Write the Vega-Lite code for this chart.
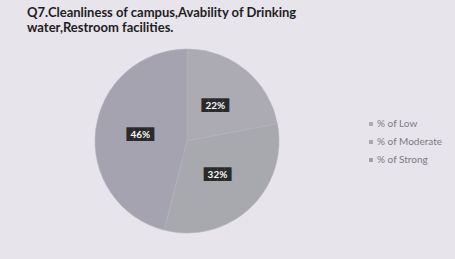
{
  "$schema": "https://vega.github.io/schema/vega-lite/v6.json",
  "autosize": "none",
  "width": 374,
  "height": 206,
  "padding": {"left": 0, "top": 38, "right": 81, "bottom": 15},
  "background": "#e8e4eb",
  "title": {
    "text": ["Q7.Cleanliness of campus,Avability of Drinking", "water,Restroom facilities."],
    "anchor": "start",
    "frame": "group",
    "dx": 27,
    "offset": 3,
    "font": "Lato",
    "fontSize": 13,
    "fontWeight": "bold",
    "color": "#1e1e22",
    "lineHeight": 15
  },
  "config": {"view": {"stroke": null}},
  "data": {
    "values": [
      {"cat": "% of Low", "v": 22, "label": "22%"},
      {"cat": "% of Moderate", "v": 32, "label": "32%"},
      {"cat": "% of Strong", "v": 46, "label": "46%"}
    ]
  },
  "encoding": {
    "theta": {"field": "v", "type": "quantitative", "stack": true}
  },
  "layer": [
    {
      "mark": {"type": "arc", "outerRadius": 92, "stroke": "#b4b2ba", "strokeWidth": 0.6},
      "encoding": {
        "color": {
          "field": "cat",
          "type": "nominal",
          "scale": {"range": ["#acabb4", "#a8a8af", "#a6a3b0"]},
          "legend": {
            "title": null,
            "orient": "none",
            "legendX": 366,
            "legendY": 81,
            "symbolType": "square",
            "symbolSize": 16,
            "symbolFillColor": "#8e8c96",
            "symbolStrokeWidth": 0,
            "labelFont": "Lato",
            "labelFontSize": 10,
            "labelColor": "#7d7b84",
            "rowPadding": 8,
            "labelOffset": 1
          }
        }
      }
    },
    {
      "mark": {"type": "text", "radius": 46, "font": "DejaVu Sans Mono", "fontSize": 11.5, "text": "████", "fill": "#2a2a2c", "dx": -1},
      "encoding": {
        "detail": {"field": "cat"}
      }
    },
    {
      "mark": {"type": "text", "radius": 46, "font": "Lato", "fontSize": 10, "fontWeight": "bold", "fill": "#f4f4f4", "dx": -1},
      "encoding": {
        "detail": {"field": "cat"},
        "text": {"field": "label"}
      }
    }
  ]
}
